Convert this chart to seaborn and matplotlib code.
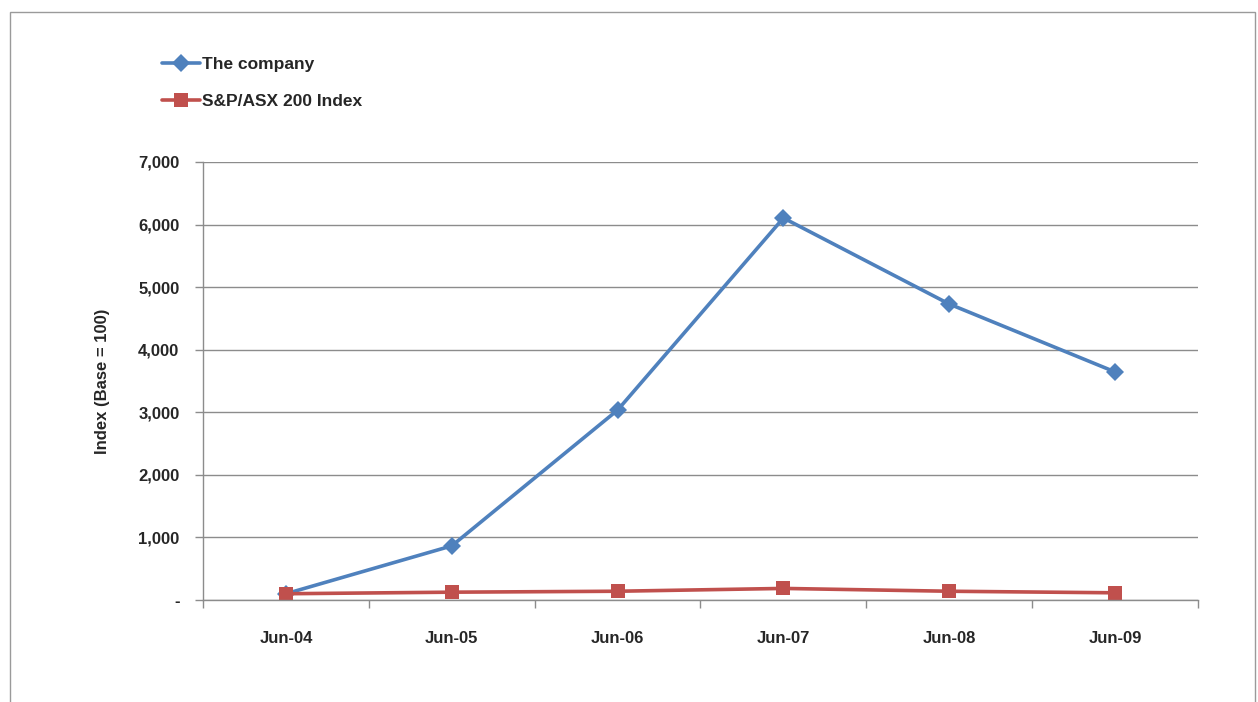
import numpy as np
import pandas as pd
import matplotlib
matplotlib.use("Agg")
import matplotlib.pyplot as plt
import seaborn as sns
from matplotlib.patches import Rectangle
from matplotlib.ticker import FuncFormatter

# Data
periods = ["Jun-04", "Jun-05", "Jun-06", "Jun-07", "Jun-08", "Jun-09"]
company = [100, 865, 3035, 6105, 4730, 3645]
asx200 = [100, 125, 140, 185, 140, 115]
series_names = ["The company", "S&P/ASX 200 Index"]
y_ticks = [0, 1000, 2000, 3000, 4000, 5000, 6000, 7000]

sns.set_style("white")
plt.rcParams["font.family"] = ["Liberation Sans Narrow", "Liberation Sans", "DejaVu Sans"]

df = pd.DataFrame({
    "period": periods * 2,
    "value": company + asx200,
    "series": [series_names[0]] * len(periods) + [series_names[1]] * len(periods),
})

fig = plt.figure(figsize=(12.58, 7.02), dpi=100)
ax = fig.add_axes([203 / 1258, 102 / 702, 995 / 1258, 438 / 702])

palette = {series_names[0]: "#4F81BD", series_names[1]: "#C0504D"}
markers = {series_names[0]: "D", series_names[1]: "s"}
sns.lineplot(data=df, x="period", y="value", hue="series", style="series",
             palette=palette, markers=markers, dashes=False, linewidth=2.6,
             markersize=9.5, markeredgewidth=0, sort=False, ax=ax)

# squares are a little bigger in the original
for line in ax.lines:
    if line.get_marker() == "s":
        line.set_markersize(10.5)

ax.set_xlim(-0.5, len(periods) - 0.5)
ax.set_ylim(0, 7000)
ax.set_yticks(y_ticks)
ax.yaxis.set_major_formatter(FuncFormatter(lambda v, p: "-" if v == 0 else f"{int(v):,}"))
ax.grid(axis="y", color="#8c8c8c", linewidth=1)
ax.set_axisbelow(True)

ax.set_xticks(range(len(periods)))
ax.set_xticklabels(periods, fontsize=12, fontweight="bold")
ax.set_xticks(np.arange(-0.5, len(periods)), minor=True)
ax.tick_params(axis="x", which="both", bottom=True)
ax.tick_params(axis="x", which="major", length=0, pad=22)
ax.tick_params(axis="x", which="minor", length=6, color="#8c8c8c", width=1, direction="out")
ax.tick_params(axis="y", left=True, length=6, color="#8c8c8c", width=1, direction="out", pad=11,
               labelsize=12)
for lab in ax.get_yticklabels():
    lab.set_fontweight("bold")
    lab.set_family(["Liberation Sans", "DejaVu Sans"])

for side in ["top", "right"]:
    ax.spines[side].set_visible(False)
for side in ["left", "bottom"]:
    ax.spines[side].set_color("#8c8c8c")
    ax.spines[side].set_linewidth(1)

ax.set_xlabel("")
ax.set_ylabel("Index (Base = 100)", fontsize=12, fontweight="bold", labelpad=20)

handles, labels = ax.get_legend_handles_labels()
ax.get_legend().remove()
leg = fig.legend(handles, labels, loc="upper left", bbox_to_anchor=(146 / 1258, 1 - 41 / 702),
                 frameon=False, prop={"size": 12.5, "weight": "bold"},
                 handlelength=2.2, handletextpad=0.15, labelspacing=1.3)

# outer chart border
fig.add_artist(Rectangle((10 / 1258, -0.01), 1245 / 1258, 1 - 12 / 702 + 0.01,
                         transform=fig.transFigure, fill=False, edgecolor="#9a9a9a", linewidth=1))

fig.savefig("out.png", dpi=100)
